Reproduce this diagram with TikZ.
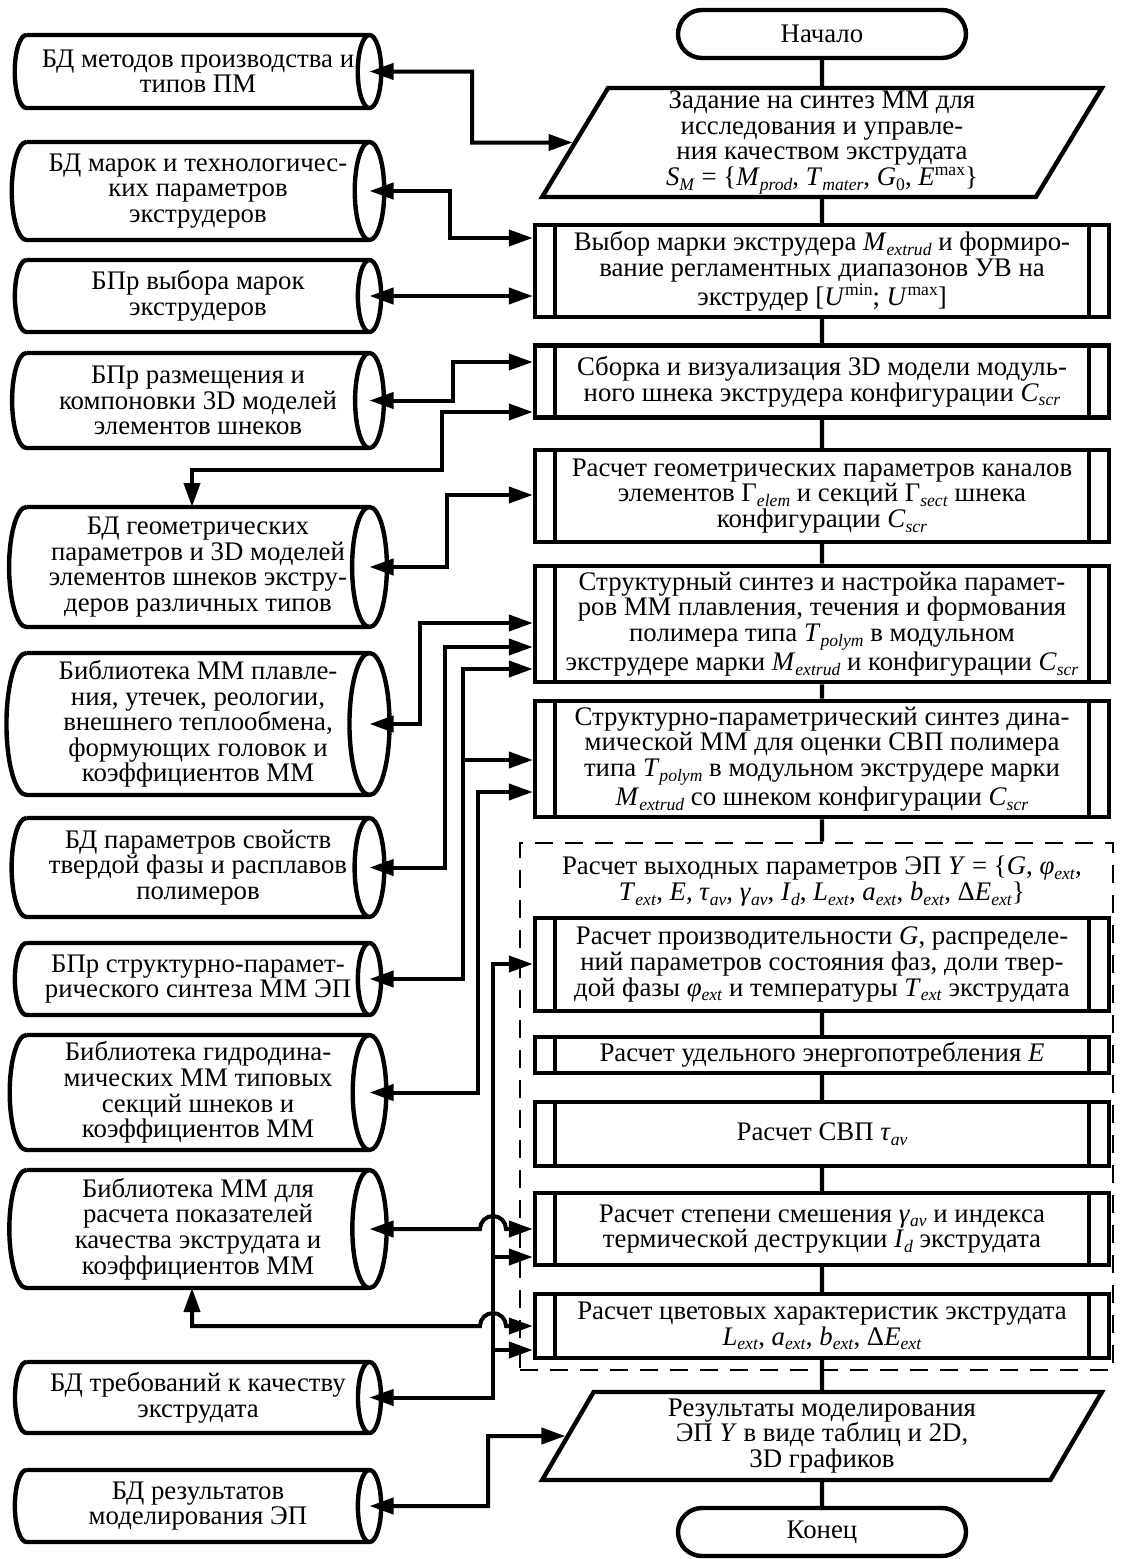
\documentclass[tikz,border=0pt]{standalone}
\usepackage{fontspec}
\setmainfont{Liberation Serif}
\usetikzlibrary{shapes.geometric, shapes.misc, arrows.meta, positioning}

% italic symbol with a small italic index, and a small upright upper index
\newcommand{\ix}[2]{\textit{#1}\raisebox{-0.18em}{\fontsize{8.8}{9}\selectfont\textit{#2}}}
\newcommand{\upx}[1]{\raisebox{0.36em}{\fontsize{8.8}{9}\selectfont #1}}

\tikzset{
  box/.style={draw, line width=2.2pt, rectangle, minimum width=287pt, align=center, inner xsep=0pt, inner ysep=1.5pt},
  procbox/.style={box, path picture={
      \draw[line width=2.2pt]
        ([xshift=10pt]path picture bounding box.north west) -- ([xshift=10pt]path picture bounding box.south west)
        ([xshift=-10pt]path picture bounding box.north east) -- ([xshift=-10pt]path picture bounding box.south east);}},
  term/.style={draw, line width=2.2pt, rounded rectangle, minimum width=144pt, minimum height=24pt, inner sep=0pt},
  io/.style={draw, line width=2.2pt, trapezium, trapezium left angle=65, trapezium right angle=115,
    trapezium stretches=true, minimum width=280pt, align=center, inner sep=0pt},
  store/.style={rectangle, minimum width=171.5pt, inner sep=0pt, outer sep=0pt, align=center},
  storeline/.style={line width=2.2pt},
  flow/.style={line width=2.2pt},
  link/.style={line width=2pt, {Triangle[length=12pt,width=8pt]}-{Triangle[length=12pt,width=8pt]}},
  feed/.style={line width=2pt, -{Triangle[length=12pt,width=8pt]}},
  group/.style={draw, line width=1.4pt, dash pattern=on 9pt off 6pt, minimum width=296.5pt, minimum height=263.5pt}
}

% store symbol: name, position, height, text
\newcommand{\storenode}[4]{%
  \node[store, minimum height=#3] (#1) at (#2) {#4};
  \draw[storeline] (#1.north west) -- (#1.north east)
    arc[start angle=90, end angle=-90, x radius=0.12*#3+1.5pt, y radius=0.5*#3]
    -- (#1.south west)
    arc[start angle=270, end angle=90, x radius=0.12*#3+1.5pt, y radius=0.5*#3]
    (#1.north east) arc[start angle=90, end angle=270, x radius=0.12*#3+1.5pt, y radius=0.5*#3];}

\begin{document}
\begin{tikzpicture}[x=0.5pt, y=-0.5pt, font=\fontsize{13.4}{12.8}\selectfont]
\useasboundingbox (0,0) rectangle (1120,1559);

% main column
\node[term] (start) at (822,34) {Начало};
\node[io, minimum height=54.5pt] (task) at (822,142.5)
  {Задание на синтез ММ для\\исследования и управле-\\ния качеством экструдата\\
   \ix{S}{M} = \{\ix{M}{prod}, \ix{T}{mater}, \textit{G}\raisebox{-0.18em}{\fontsize{8.8}{9}\selectfont 0}, \textit{E}\upx{max}\}};
\node[procbox, minimum height=46pt] (sel) at (822,271)
  {Выбор марки экструдера \ix{M}{extrud} и формиро-\\вание регламентных диапазонов УВ на\\
   экструдер [\textit{U}\upx{min}; \textit{U}\upx{max}]};
\node[procbox, minimum height=36pt] (asm) at (822,381.5)
  {Сборка и визуализация 3D модели модуль-\\ного шнека экструдера конфигурации \ix{C}{scr}};
\node[procbox, minimum height=46pt] (geom) at (822,496)
  {Расчет геометрических параметров каналов\\элементов Γ\raisebox{-0.18em}{\fontsize{8.8}{9}\selectfont\textit{elem}} и секций
   Γ\raisebox{-0.18em}{\fontsize{8.8}{9}\selectfont\textit{sect}} шнека\\конфигурации \ix{C}{scr}};
\node[procbox, minimum height=53pt, inner ysep=3pt] (synt) at (822,624)
  {Структурный синтез и настройка парамет-\\ров ММ плавления, течения и формования\\
   полимера типа \ix{T}{polym} в модульном\\экструдере марки \ix{M}{extrud} и конфигурации \ix{C}{scr}};
\node[procbox, minimum height=54pt, inner ysep=3pt] (dyn) at (822,759)
  {Структурно-параметрический синтез дина-\\мической ММ для оценки СВП полимера\\
   типа \ix{T}{polym} в модульном экструдере марки\\\ix{M}{extrud} со шнеком конфигурации \ix{C}{scr}};

% output parameters group
\node[group] (calc) at (816.5,1106.5) {};
\node[align=center] (out) at (822,881)
  {Расчет выходных параметров ЭП \textit{Y} = \{\textit{G}, \ix{φ}{ext},\\
   \ix{T}{ext}, \textit{E}, \ix{τ}{av}, \ix{γ}{av}, \ix{I}{d}, \ix{L}{ext}, \ix{a}{ext}, \ix{b}{ext}, Δ\ix{E}{ext}\}};
\node[procbox, minimum height=46.5pt] (perf) at (822,964.5)
  {Расчет производительности \textit{G}, распределе-\\ний параметров состояния фаз, доли твер-\\
   дой фазы \ix{φ}{ext} и температуры \ix{T}{ext} экструдата};
\node[procbox, minimum height=18pt] (energy) at (822,1055) {Расчет удельного энергопотребления \textit{E}};
\node[procbox, minimum height=32pt] (rtd) at (822,1134) {Расчет СВП \ix{τ}{av}};
\node[procbox, minimum height=36pt] (mix) at (822,1229)
  {Расчет степени смешения \ix{γ}{av} и индекса\\термической деструкции \ix{I}{d} экструдата};
\node[procbox, minimum height=32pt] (color) at (822,1326)
  {Расчет цветовых характеристик экструдата\\\ix{L}{ext}, \ix{a}{ext}, \ix{b}{ext}, Δ\ix{E}{ext}};
\node[io, minimum height=44pt] (res) at (822,1436)
  {Результаты моделирования\\ЭП \textit{Y} в виде таблиц и 2D,\\3D графиков};
\node[term] (stop) at (822,1532) {Конец};

% data bases and libraries
\storenode{db1}{198,71.5}{36.5pt}{БД методов производства и\\типов ПМ}
\storenode{db2}{198,191}{49pt}{БД марок и технологичес-\\ких параметров\\экструдеров}
\storenode{db3}{198,296}{36pt}{БПр выбора марок\\экструдеров}
\storenode{db4}{198,400.5}{47.5pt}{БПр размещения и\\компоновки 3D моделей\\элементов шнеков}
\storenode{db5}{198,567}{60pt}{БД геометрических\\параметров и 3D моделей\\элементов шнеков экстру-\\деров различных типов}
\storenode{db6}{198,724}{71pt}{Библиотека ММ плавле-\\ния, утечек, реологии,\\внешнего теплообмена,\\формующих головок и\\коэффициентов ММ}
\storenode{db7}{198,867.5}{49.5pt}{БД параметров свойств\\твердой фазы и расплавов\\полимеров}
\storenode{db8}{198,979}{36pt}{БПр структурно-парамет-\\рического синтеза ММ ЭП}
\storenode{db9}{198,1092.5}{57.5pt}{Библиотека гидродина-\\мических ММ типовых\\секций шнеков и\\коэффициентов ММ}
\storenode{db10}{198,1229}{59pt}{Библиотека ММ для\\расчета показателей\\качества экструдата и\\коэффициентов ММ}
\storenode{db11}{198,1397.5}{35.5pt}{БД требований к качеству\\экструдата}
\storenode{db12}{198,1506}{36pt}{БД результатов\\моделирования ЭП}

% main flow
\draw[flow] (start) -- (task) -- (sel) -- (asm) -- (geom) -- (synt) -- (dyn) -- (dyn |- calc.north);
\draw[flow] (perf) -- (energy) -- (rtd) -- (mix) -- (color) -- (res) -- (stop);

% links to the stores
\draw[link] (db1.east) -| (472,142.5) -- (task.west);
\draw[link] (db2.east) -| (450,238) -- (sel.west |- 0,238);
\draw[link] (db3.east) -- (sel.west |- db3.east);
\draw[link] (db4.east) -| (453,362) -- (asm.west |- 0,362);
\draw[link] (asm.west |- 0,412) -| (442,470) -| ([xshift=-3pt]db5.north);
\draw[link] (db5.east) -| (447,495) -- (geom.west |- 0,495);
\draw[link] (db6.east) -| (420,623) -- (synt.west |- 0,623);
\draw[link] (db7.east) -| (445,647) -- (synt.west |- 0,647);
\draw[link] (db8.east) -| (463,669) -- (synt.west |- 0,669);
\draw[feed] (463,760) -- (dyn.west |- 0,760);
\draw[link] (db9.east) -| (478,792) -- (dyn.west |- 0,792);
\draw[link] (db11.east) -| (493,964) -- (perf.west |- 0,964);
\draw[feed] (493,1257) -- (mix.west |- 0,1257);
\draw[feed] (493,1350) -- (color.west |- 0,1350);
\draw[link] (db10.east) -- (480,1229) arc[start angle=180, end angle=360, radius=13]
  -- (mix.west |- 0,1229);
\draw[link] ([xshift=-3pt]db10.south) |- (480,1326) arc[start angle=180, end angle=360, radius=13]
  -- (color.west |- 0,1326);
\draw[link] (db12.east) -| (488,1436) -- (res.west);
\end{tikzpicture}
\end{document}
